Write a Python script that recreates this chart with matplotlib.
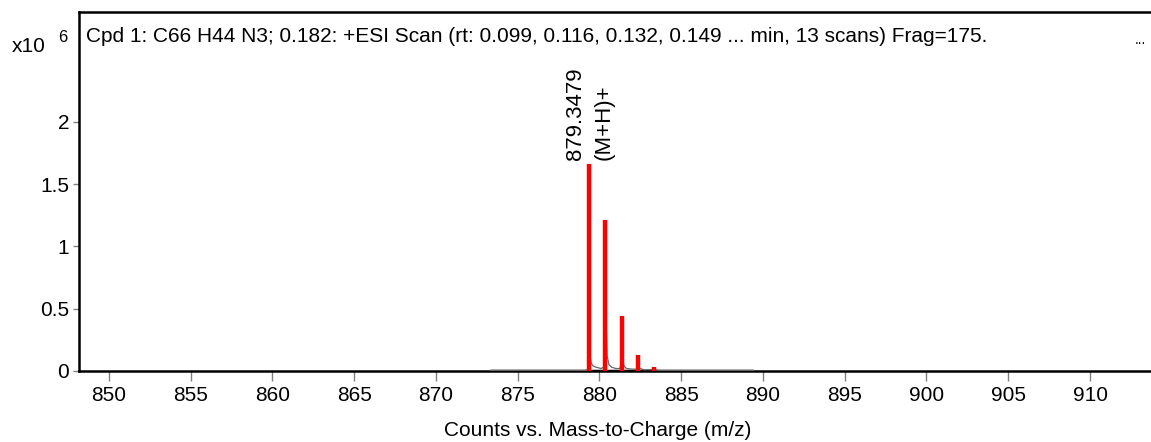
import matplotlib.pyplot as plt
import numpy as np

plt.rcParams['font.family'] = ['Liberation Sans', 'DejaVu Sans']

# centroid peaks (m/z, counts x10^6)
peak_mz = [879.35, 880.35, 881.38, 882.38, 883.35]
peak_int = [1.66, 1.21, 0.44, 0.13, 0.03]

# profile trace (m/z, counts x10^6)
profile_mz = [873.3, 879.2, 879.3, 879.36, 879.42, 879.5, 879.62, 879.8, 880.1,
              880.25, 880.33, 880.4, 880.47, 880.58, 880.75, 881.0, 881.25,
              881.35, 881.42, 881.5, 881.65, 882.0, 882.3, 882.4, 882.5, 882.7,
              883.0, 883.3, 883.45, 883.7, 889.4]
profile_int = [0.005, 0.005, 0.02, 0.28, 0.12, 0.06, 0.04, 0.03, 0.02,
               0.03, 0.2, 0.41, 0.12, 0.05, 0.03, 0.02, 0.02,
               0.08, 0.1, 0.04, 0.02, 0.015, 0.015, 0.03, 0.02, 0.01,
               0.01, 0.012, 0.008, 0.005, 0.005]

x_ticks = [850, 855, 860, 865, 870, 875, 880, 885, 890, 895, 900, 905, 910]
y_ticks = [0, 0.5, 1, 1.5, 2]
y_labels = ['0', '0.5', '1', '1.5', '2']

title = ('Cpd 1: C66 H44 N3; 0.182: +ESI Scan (rt: 0.099, 0.116, 0.132, 0.149 ... '
         'min, 13 scans) Frag=175.')

fs = 15

fig = plt.figure(figsize=(11.51, 4.42), dpi=100)
ax = fig.add_axes([79 / 1151, 1 - 371 / 442, 1 - 79 / 1151, (371 - 12) / 442])

# baseline of profile data, thick black
ax.plot([profile_mz[0], profile_mz[-1]], [0.0, 0.0], color='black', lw=2.5,
        solid_capstyle='butt', zorder=2)
ax.plot(profile_mz, profile_int, color='#666666', lw=0.9, zorder=3)
ax.vlines(peak_mz, 0, peak_int, color='#ff0000', lw=3.2, zorder=4)

ax.text(peak_mz[0] - 0.8, peak_int[0] + 0.03, '879.3479', rotation=90,
        ha='center', va='bottom', fontsize=16)
ax.text(peak_mz[0] + 0.95, peak_int[0] + 0.03, '(M+H)+', rotation=90,
        ha='center', va='bottom', fontsize=16)

ax.set_xlim(848.17, 913.73)
ax.set_ylim(0, 2.88)
ax.set_xticks(x_ticks)
ax.set_yticks(y_ticks)
ax.set_yticklabels(y_labels)
ax.tick_params(axis='x', direction='out', length=7, width=1, color='#808080',
               labelsize=fs, pad=4)
ax.tick_params(axis='y', direction='out', length=4, width=1, color='#808080',
               labelsize=fs, pad=3)

for s in ['left', 'bottom', 'top']:
    ax.spines[s].set_linewidth(1.8)
    ax.spines[s].set_color('black')
ax.spines['right'].set_visible(False)

fig.text(86 / 1151, 1 - 37 / 442, title, ha='left', va='center', fontsize=fs)
fig.text(1140 / 1151, 1 - 40 / 442, '...', ha='center', va='center', fontsize=10)
fig.text(12 / 1151, 1 - 47 / 442, 'x10', ha='left', va='center', fontsize=fs)
fig.text(58 / 1151, 1 - 38 / 442, '6', ha='left', va='center', fontsize=12)
fig.text(598 / 1151, 1 - 431 / 442, 'Counts vs. Mass-to-Charge (m/z)',
         ha='center', va='center', fontsize=fs)

fig.savefig('out.png', dpi=100)
